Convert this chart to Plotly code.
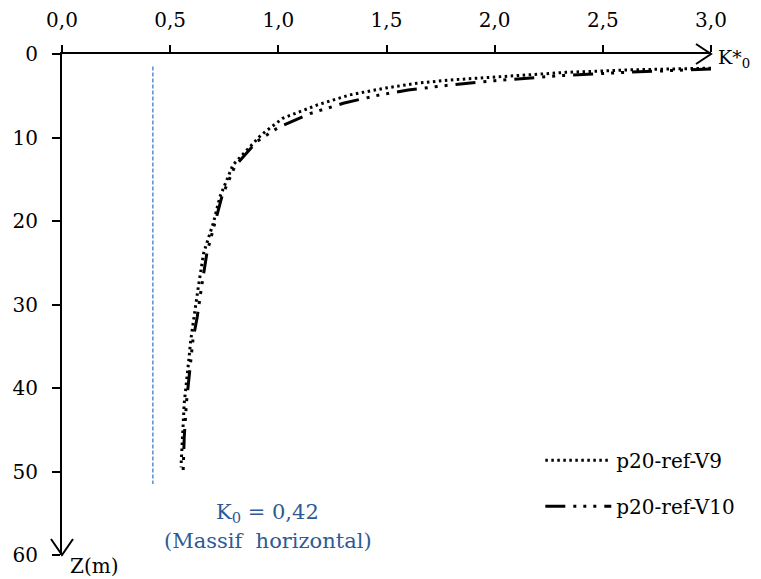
import plotly.graph_objects as go

# Data
z_v9 = [1.7, 1.9, 2.2, 2.8, 3.1, 3.5, 4.1, 4.9, 6.1, 7.7, 9.7, 13.3, 17.1, 20.2, 23.8, 27.9, 31.5, 34.3, 38.2, 41.8, 45.9, 49.5]
k_v9 = [3.0, 2.63, 2.33, 2.0, 1.80, 1.64, 1.49, 1.33, 1.18, 1.02, 0.92, 0.79, 0.73, 0.70, 0.655, 0.63, 0.61, 0.595, 0.58, 0.565, 0.557, 0.55]

z_v10 = [1.8, 2.2, 2.6, 3.2, 3.7, 4.3, 5.0, 5.9, 7.1, 8.8, 10.5, 13.4, 17.0, 20.0, 23.8, 27.9, 31.5, 34.3, 38.2, 41.8, 45.9, 50.0]
k_v10 = [3.0, 2.6, 2.3, 2.0, 1.8, 1.6, 1.45, 1.3, 1.15, 1.0, 0.9, 0.8, 0.74, 0.71, 0.67, 0.645, 0.625, 0.605, 0.59, 0.575, 0.565, 0.56]

k0_value = 0.42
k0_z = [1.5, 51.5]

x_tickvals = [0.0, 0.5, 1.0, 1.5, 2.0, 2.5, 3.0]
x_ticktext = ["0,0", "0,5", "1,0", "1,5", "2,0", "2,5", "3,0"]
y_tickvals = [0, 10, 20, 30, 40, 50, 60]

FONT = "DejaVu Serif"

fig = go.Figure()
fig.add_trace(go.Scatter(
    x=k_v9, y=z_v9, mode="lines", name="p20-ref-V9", legendgroup="a",
    line=dict(color="black", width=3, dash="2.5px,3.5px"),
))
fig.add_trace(go.Scatter(
    x=k_v10, y=z_v10, mode="lines", name="p20-ref-V10", legendgroup="b",
    line=dict(color="black", width=3, dash="20px,8px,3px,7px,3px,7px,3px,8px"),
))
fig.add_trace(go.Scatter(
    x=[k0_value, k0_value], y=k0_z, mode="lines", showlegend=False,
    line=dict(color="#5B8BD0", width=1.5, dash="4px,2px"),
))

fig.update_layout(
    width=761, height=579,
    margin=dict(l=54, r=58, t=46, b=32, autoexpand=False),
    paper_bgcolor="white", plot_bgcolor="white",
    font=dict(family=FONT, size=20, color="black"),
    showlegend=True,
    legend=dict(
        x=0.737, y=0.228, xanchor="left", yanchor="top",
        itemwidth=66, tracegroupgap=17, traceorder="grouped",
        font=dict(family=FONT, size=20, color="black"),
        bgcolor="rgba(0,0,0,0)",
    ),
    xaxis=dict(
        side="top", range=[0, 3.0], tickvals=x_tickvals, ticktext=x_ticktext,
        showgrid=False, zeroline=False, showline=True, linecolor="black", linewidth=2,
        ticks="outside", ticklen=7, tickwidth=1.5, tickcolor="black",
        ticklabelstandoff=10, automargin=False,
    ),
    yaxis=dict(
        range=[60, 0], tickvals=y_tickvals,
        showgrid=False, zeroline=False, showline=True, linecolor="black", linewidth=2,
        ticks="outside", ticklen=8, tickwidth=1.5, tickcolor="black",
        ticklabelstandoff=10, automargin=False,
    ),
    shapes=[
        dict(type="path", xref="paper", yref="paper", xsizemode="pixel", ysizemode="pixel",
             xanchor=1.0, yanchor=1.0, path="M-15,10 L0,0 L-15,-10",
             line=dict(color="black", width=2)),
        dict(type="path", xref="paper", yref="paper", xsizemode="pixel", ysizemode="pixel",
             xanchor=0, yanchor=0, path="M-11,16 L0,0 L11,16",
             line=dict(color="black", width=2)),
    ],
    annotations=[
        dict(x=1.0, y=1.0, xref="paper", yref="paper", text="K*<sub>0</sub>", showarrow=False,
             xanchor="left", yanchor="middle", xshift=5, yshift=-4,
             font=dict(family=FONT, size=19, color="black")),
        dict(x=0, y=0, xref="paper", yref="paper", text="Z(m)", showarrow=False,
             xanchor="left", yanchor="middle", xshift=6, yshift=-11,
             font=dict(family=FONT, size=20, color="black")),
        dict(x=0.95, y=55.0, xref="x", yref="y", text="K<sub>0</sub> = 0,42", showarrow=False,
             xanchor="center", yanchor="middle",
             font=dict(family=FONT, size=21, color="#2E5A94")),
        dict(x=0.95, y=58.3, xref="x", yref="y", text="(Massif  horizontal)", showarrow=False,
             xanchor="center", yanchor="middle",
             font=dict(family=FONT, size=21, color="#2E5A94")),
    ],
)

fig.write_html("out.html")
